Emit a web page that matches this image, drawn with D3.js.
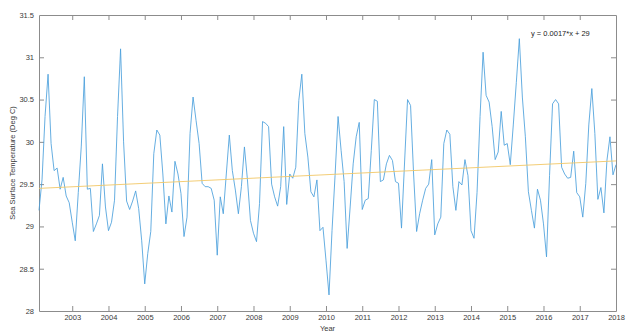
<!DOCTYPE html>
<html>
<head>
<meta charset="utf-8">
<script src="https://cdn.jsdelivr.net/npm/d3@7"></script>
<style>
  html, body { margin: 0; padding: 0; background: #fff; }
  svg { display: block; font-family: "Liberation Sans", Arial, Helvetica, sans-serif; }
</style>
</head>
<body>
<svg id="chart" width="632" height="334"></svg>
<script>
// Monthly sea surface temperature, Feb 2002 .. Jan 2018
const startYear = 2002;
const startMonth = 2; // February
const sst = [
  29.19, 29.55, 30.30, 30.80, 29.98, 29.66, 29.69, 29.44, 29.58, 29.36, 29.28,
  29.05, 28.83, 29.40, 29.95, 30.77, 29.44, 29.45, 28.94, 29.03, 29.13, 29.74, 29.23,
  28.95, 29.05, 29.31, 30.30, 31.10, 30.00, 29.30, 29.20, 29.30, 29.42, 29.21, 28.83,
  28.32, 28.68, 28.94, 29.86, 30.14, 30.08, 29.62, 29.03, 29.36, 29.17, 29.77, 29.62,
  29.39, 28.88, 29.11, 30.10, 30.53, 30.25, 29.98, 29.51, 29.47, 29.47, 29.45, 29.31,
  28.66, 29.35, 29.15, 29.62, 30.08, 29.66, 29.43, 29.15, 29.47, 29.94, 29.55, 29.07,
  28.92, 28.82, 29.27, 30.24, 30.22, 30.18, 29.50, 29.35, 29.24, 29.47, 30.18, 29.26,
  29.62, 29.57, 29.70, 30.49, 30.80, 30.10, 29.82, 29.41, 29.35, 29.55, 28.95, 28.99,
  28.60, 28.19, 28.95, 29.60, 30.30, 29.90, 29.53, 28.74, 29.23, 29.74, 30.06, 30.23,
  29.20, 29.31, 29.33, 29.90, 30.50, 30.48, 29.53, 29.55, 29.74, 29.84, 29.78, 29.53,
  29.51, 28.98, 29.75, 30.50, 30.43, 29.62, 28.94, 29.15, 29.31, 29.45, 29.50, 29.79,
  28.90, 29.03, 29.11, 29.98, 30.14, 30.09, 29.47, 29.19, 29.53, 29.49, 29.79, 29.60,
  28.95, 28.86, 29.40, 30.30, 31.06, 30.55, 30.47, 30.18, 29.79, 29.88, 30.36, 29.96,
  29.98, 29.73, 30.20, 30.70, 31.22, 30.53, 30.06, 29.41, 29.19, 28.98, 29.44, 29.31,
  29.03, 28.64, 29.60, 30.45, 30.50, 30.45, 29.70, 29.62, 29.57, 29.58, 29.89, 29.40,
  29.35, 29.11, 29.51, 30.20, 30.63, 30.10, 29.32, 29.46, 29.16, 29.78, 30.06, 29.61,
  29.73
];
// Linear fit (per month index)
const trendSlope = 0.0017;
const trendIntercept = 29.45;
const trendLabel = "y = 0.0017*x + 29";

const xTicks = [2003, 2004, 2005, 2006, 2007, 2008, 2009, 2010, 2011, 2012, 2013, 2014, 2015, 2016, 2017, 2018];
const yTicks = [28, 28.5, 29, 29.5, 30, 30.5, 31, 31.5];
const xLabel = "Year";
const yLabel = "Sea Surface Temperature (Deg C)";

const data = sst.map((v, i) => ({ t: startYear + (startMonth - 1 + i) / 12, v: v, i: i }));

const svg = d3.select("#chart");
const L = 39, R = 616, T = 15, B = 311;

const x = d3.scaleLinear().domain([data[0].t, data[data.length - 1].t]).range([L, R]);
const y = d3.scaleLinear().domain([28, 31.5]).range([B, T]);

const axisColor = "#8c8c8c";
const textColor = "#3a3a3a";
const tickLen = 5;

const xb = svg.append("g").attr("transform", `translate(0,${B})`)
  .call(d3.axisBottom(x).tickValues(xTicks).tickFormat(d3.format("d")).tickSizeInner(-tickLen).tickSizeOuter(0).tickPadding(4));
const xt = svg.append("g").attr("transform", `translate(0,${T})`)
  .call(d3.axisTop(x).tickValues(xTicks).tickFormat("").tickSizeInner(-tickLen).tickSizeOuter(0));
const yl = svg.append("g").attr("transform", `translate(${L},0)`)
  .call(d3.axisLeft(y).tickValues(yTicks).tickFormat(d => String(d)).tickSizeInner(-tickLen).tickSizeOuter(0).tickPadding(5));
const yr = svg.append("g").attr("transform", `translate(${R},0)`)
  .call(d3.axisRight(y).tickValues(yTicks).tickFormat("").tickSizeInner(-tickLen).tickSizeOuter(0));

[xb, xt, yl, yr].forEach(g => {
  g.selectAll(".domain").attr("stroke", axisColor).attr("stroke-width", 1);
  g.selectAll(".tick line").attr("stroke", axisColor).attr("stroke-width", 1);
  g.selectAll(".tick text").attr("fill", textColor).attr("font-size", "7.5px")
    .attr("font-family", "\"Liberation Sans\", Arial, sans-serif");
});
xb.selectAll(".tick").filter(d => d === 2018).select("line").remove();
xt.selectAll(".tick").filter(d => d === 2018).select("line").remove();
yl.selectAll(".tick").filter(d => d === 28 || d === 31.5).select("line").remove();
yr.selectAll(".tick").filter(d => d === 28 || d === 31.5).select("line").remove();

const line = d3.line().x(d => x(d.t)).y(d => y(d.v));
svg.append("path").datum(data)
  .attr("fill", "none")
  .attr("stroke", "#4a9fdb")
  .attr("stroke-width", 0.85)
  .attr("stroke-linejoin", "round")
  .attr("d", line);

const trend = [data[0], data[data.length - 1]].map(d => ({ t: d.t, v: trendIntercept + trendSlope * d.i }));
svg.append("path").datum(trend)
  .attr("fill", "none")
  .attr("stroke", "#f2c766")
  .attr("stroke-width", 0.9)
  .attr("d", line);

svg.append("text")
  .attr("x", 531).attr("y", 36)
  .attr("font-size", "7.5px").attr("fill", "#222")
  .text(trendLabel);

svg.append("text")
  .attr("x", (L + R) / 2).attr("y", 331)
  .attr("text-anchor", "middle")
  .attr("font-size", "7.5px").attr("fill", textColor)
  .text(xLabel);

svg.append("text")
  .attr("transform", `translate(15,${(T + B) / 2}) rotate(-90)`)
  .attr("text-anchor", "middle")
  .attr("font-size", "7.5px").attr("fill", textColor)
  .text(yLabel);
</script>
</body>
</html>
